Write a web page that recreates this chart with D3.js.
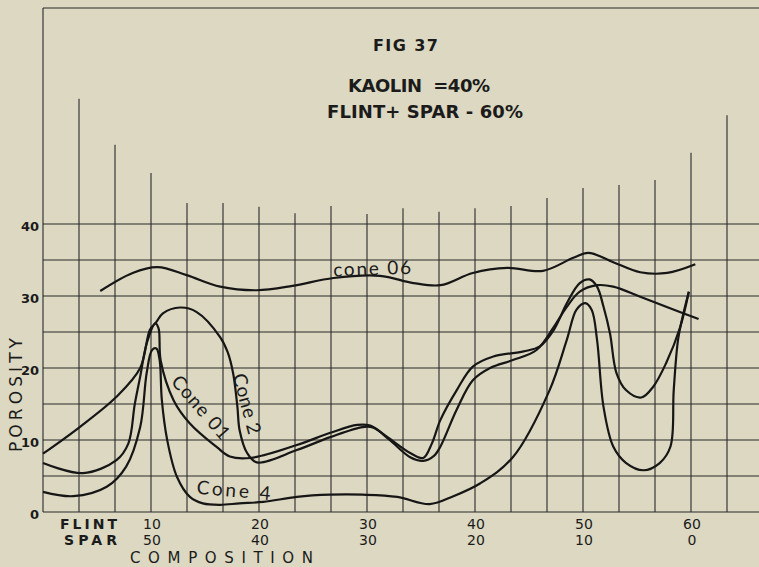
<!DOCTYPE html>
<html lang="en">
<head>
<meta charset="utf-8">
<title>Fig 37</title>
<style>
  body { margin: 0; background: #dcd8c1; }
  svg { display: block; }
  .grid line { stroke: #2b2b2b; stroke-width: 1.1px; }
  .curve { fill: none; stroke: #161616; stroke-width: 2.2px; stroke-linejoin: round; }
  text { fill: #1b1b1b; font-family: "DejaVu Sans", sans-serif; }
  .hand { font-family: Lato, "Open Sans", sans-serif; }
</style>
</head>
<body>
<div id="chart"></div>
<script src="https://cdn.jsdelivr.net/npm/d3@7"></script>
<script>
var width = 759,
    height = 567;

// grid
var porosityLines = [0, 5, 10, 15, 20, 25, 30, 35, 40];
var stemFlint = d3.range(1, 20).map(function(i) { return i * 10 / 3; });
var stemTops = [57.4, 51, 47.1, 42.9, 42.9, 42.4, 41.5, 42.5, 41.4, 42.2, 41.7, 42.2, 42.5, 43.6, 45, 45.4, 46.1, 49.9, 55.1];

// axis labels
var porosityTicks = [0, 10, 20, 30, 40];
var flintTicks = [10, 20, 30, 40, 50, 60];
var sparTicks = [50, 40, 30, 20, 10, 0];

// curves: [flint %, porosity]
var cone06 = [[5.3,30.7],[8.3,33.2],[10.6,34.0],[13.3,32.9],[16.4,31.3],[19.8,30.8],[23.1,31.4],[26.9,32.5],[31.2,32.8],[34.3,31.8],[36.8,31.5],[39.8,33.2],[43.0,33.9],[46.3,33.5],[49.1,35.3],[50.5,36.0],[52.8,34.7],[55.3,33.3],[57.8,33.2],[60.4,34.4]];

var cone01 = [[0,6.8],[3.7,5.4],[6.8,7.2],[7.9,9.5],[8.5,15.0],[9.0,18.8],[9.6,23.4],[10.4,26.2],[10.7,25.5],[10.9,21],[12.1,15.5],[13.6,12.3],[16.1,9.0],[17.3,7.7],[19.2,7.5],[23.5,9.3],[26.6,11.0],[29.1,12.1],[30.3,12.0],[31.9,10.4],[34.0,8.2],[35.2,7.5],[36.0,9.5],[36.8,12.8],[38.3,16.9],[39.8,20.2],[41.7,21.6],[44.5,22.3],[46.0,23.0],[47.3,25.3],[48.5,29.0],[49.7,31.8],[50.6,32.3],[51.3,31.3],[51.9,28.5],[52.5,24.8],[53.1,19.3],[54.0,16.9],[55.4,15.9],[56.5,17.4],[57.7,20.7],[59.0,25.7],[59.8,30.6]];

var cone2 = [[0,8.1],[3.4,11.8],[6.8,16.0],[9.0,20.0],[9.9,25.3],[10.5,26.4],[11.1,27.6],[12.7,28.4],[14.2,27.8],[16.4,24.3],[17.1,22.2],[17.6,19.3],[18.0,14.6],[18.2,11.4],[18.9,8.2],[19.8,6.9],[23.5,8.6],[26.6,10.4],[29.6,11.8],[30.6,11.7],[32.1,10.0],[34.0,7.6],[35.2,7.1],[36.2,7.8],[36.8,9.1],[38.3,14.2],[39.8,18.3],[41.4,20.0],[43.5,21.1],[45.7,22.5],[47.3,25.7],[48.5,28.5],[49.7,30.6],[51.3,31.5],[52.8,31.3],[55.3,29.9],[57.7,28.5],[60.7,26.8]];

var cone4 = [[0,2.8],[2.8,2.2],[5.9,3.5],[7.7,6.3],[9.0,11.8],[9.6,19.3],[10.1,22.5],[10.5,22.7],[10.8,21.1],[11.0,15.6],[11.5,10.0],[12.4,4.9],[13.6,2.1],[14.8,1.2],[16.4,1.0],[18.2,1.2],[20.4,1.4],[23.5,2.1],[26.6,2.4],[29.6,2.4],[32.8,2.1],[35.8,1.1],[38.0,2.2],[40.5,4.0],[43.5,7.6],[46.9,16.9],[48.5,23.9],[49.4,28.1],[50.2,29.0],[50.8,28.1],[51.3,23.9],[51.9,14.6],[52.8,9.1],[54.0,6.8],[55.6,5.8],[57.1,6.8],[58.1,9.1],[58.4,16.9],[58.8,23.9],[59.3,27.6],[59.8,30.6]];

var curveLabels = [
  { text: "cone 06", f: 30.5, p: 32.9, angle: -2, len: 78 },
  { text: "Cone 01", f: 14.15, p: 13.95, angle: 49, len: 78 },
  { text: "Cone 2", f: 18.3, p: 14.8, angle: 75, len: 62 },
  { text: "Cone 4", f: 17.6, p: 2.1, angle: 5, len: 74 }
];

var svg = d3.select("#chart")
    .append("svg")
    .attr("width", width)
    .attr("height", height);

var x = d3.scaleLinear().domain([0, 60]).range([43, 691]);
var y = d3.scaleLinear().domain([0, 40]).range([512, 224]);

var grid = svg.append("g").attr("class", "grid");

// frame
grid.append("line")
    .attr("x1", x(0)).attr("x2", x(0))
    .attr("y1", y(70)).attr("y2", y(0));
grid.append("line")
    .attr("x1", x(0)).attr("x2", width)
    .attr("y1", y(70)).attr("y2", y(70));

grid.selectAll(".h")
    .data(porosityLines)
  .enter().append("line")
    .attr("x1", x(0)).attr("x2", width)
    .attr("y1", function(d) { return y(d); })
    .attr("y2", function(d) { return y(d); });

grid.selectAll(".v")
    .data(stemFlint)
  .enter().append("line")
    .attr("x1", function(d) { return x(d); })
    .attr("x2", function(d) { return x(d); })
    .attr("y1", y(0))
    .attr("y2", function(d, i) { return y(stemTops[i]); });

var line = d3.line()
    .x(function(d) { return x(d[0]); })
    .y(function(d) { return y(d[1]); })
    .curve(d3.curveCatmullRom.alpha(0.5));

svg.selectAll(".curve")
    .data([cone06, cone01, cone2, cone4])
  .enter().append("path")
    .attr("class", "curve")
    .attr("d", line);

svg.selectAll(".clabel")
    .data(curveLabels)
  .enter().append("text")
    .attr("class", "hand")
    .attr("text-anchor", "middle")
    .attr("font-size", 19)
    .attr("textLength", function(d) { return d.len; })
    .attr("lengthAdjust", "spacing")
    .attr("transform", function(d) { return "translate(" + x(d.f) + "," + y(d.p) + ") rotate(" + d.angle + ")"; })
    .text(function(d) { return d.text; });

// y tick labels
svg.selectAll(".ytick")
    .data(porosityTicks)
  .enter().append("text")
    .attr("x", 39)
    .attr("y", function(d) { return y(d); })
    .attr("dy", "0.5em")
    .attr("text-anchor", "end")
    .attr("font-size", 13)
    .attr("font-weight", "bold")
    .text(function(d) { return d; });

svg.append("text")
    .attr("transform", "translate(22,395) rotate(-90)")
    .attr("text-anchor", "middle")
    .attr("font-size", 17)
    .attr("textLength", 114)
    .attr("lengthAdjust", "spacing")
    .text("POROSITY");

// x labels
svg.selectAll(".ftick")
    .data(flintTicks)
  .enter().append("text")
    .attr("x", function(d) { return x(d) + 1; })
    .attr("y", 529)
    .attr("text-anchor", "middle")
    .attr("font-size", 14)
    .text(function(d) { return d; });

svg.selectAll(".stick")
    .data(sparTicks)
  .enter().append("text")
    .attr("x", function(d, i) { return x(flintTicks[i]) + 1; })
    .attr("y", 545)
    .attr("text-anchor", "middle")
    .attr("font-size", 14)
    .text(function(d) { return d; });

svg.append("text")
    .attr("x", 60).attr("y", 529)
    .attr("font-size", 14)
    .attr("font-weight", "bold")
    .attr("textLength", 57)
    .attr("lengthAdjust", "spacing")
    .text("FLINT");

svg.append("text")
    .attr("x", 64).attr("y", 545)
    .attr("font-size", 14)
    .attr("font-weight", "bold")
    .attr("textLength", 53)
    .attr("lengthAdjust", "spacing")
    .text("SPAR");

svg.append("text")
    .attr("x", 130).attr("y", 563)
    .attr("font-size", 15)
    .attr("textLength", 183)
    .attr("lengthAdjust", "spacing")
    .text("COMPOSITION");

// title block
svg.append("text")
    .attr("x", 373).attr("y", 51)
    .attr("font-size", 16)
    .attr("font-weight", "bold")
    .attr("textLength", 65)
    .attr("lengthAdjust", "spacing")
    .text("FIG 37");

svg.append("text")
    .attr("x", 348).attr("y", 92)
    .attr("font-size", 18)
    .attr("font-weight", "bold")
    .attr("textLength", 142)
    .attr("lengthAdjust", "spacing")
    .text("KAOLIN\u00a0\u00a0=40%");

svg.append("text")
    .attr("x", 327).attr("y", 118)
    .attr("font-size", 18)
    .attr("font-weight", "bold")
    .attr("textLength", 196)
    .attr("lengthAdjust", "spacing")
    .text("FLINT+ SPAR - 60%");
</script>
</body>
</html>
